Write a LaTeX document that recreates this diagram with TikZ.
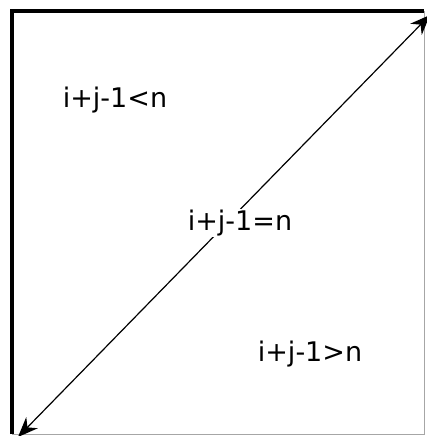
\documentclass[tikz,border=0pt]{standalone}
\usepackage{fontspec}
\setmainfont{DejaVu Sans}
\usetikzlibrary{arrows.meta}

\begin{document}
\begin{tikzpicture}[
  x=1pt, y=-1pt,
  cond/.style={font=\fontsize{27}{30}\selectfont, inner sep=1pt},
  frame/.style={line width=3.5pt, black},
  faint/.style={line width=1pt, black!35},
  diag/.style={{Stealth[length=20pt,width=16pt]}-{Stealth[length=20pt,width=16pt]}, line width=1.2pt}
]
\useasboundingbox (0,0) rectangle (427,436);
\coordinate (tl) at (12,11);
\coordinate (tr) at (424,11);
\coordinate (bl) at (12,434);
\coordinate (br) at (424,434);
\draw[faint] (tr) -- (br) -- (bl);
\draw[frame] (bl) -- (tl) -- (tr);

\coordinate (lowleft) at (18,437);
\coordinate (upright) at (430,15);
\draw[diag] (lowleft) -- (upright);

\node[cond] (less) at (115,100) {i+j-1<n};
\node[cond, fill=white] (equal) at (240,223) {i+j-1=n};
\node[cond] (greater) at (310,354) {i+j-1>n};
\end{tikzpicture}
\end{document}
